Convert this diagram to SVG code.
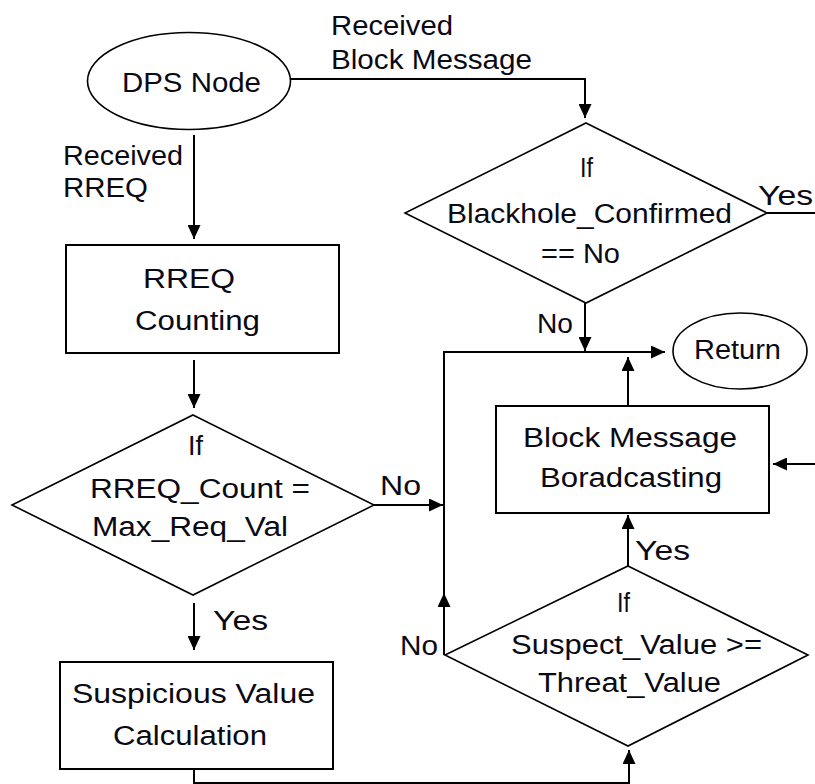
<svg xmlns="http://www.w3.org/2000/svg" width="815" height="784" viewBox="0 0 815 784">
  <style>
    .shape { fill: #ffffff; stroke: #000000; stroke-width: 1.6; }
    .box { fill: #ffffff; stroke: #000000; stroke-width: 2; }
    .conn { fill: none; stroke: #000000; stroke-width: 2; }
    text { font-family: "Liberation Sans", Arial, sans-serif; font-size: 27px; fill: #0a0a14; }
  </style>
  <defs>
    <marker id="arrow" markerUnits="userSpaceOnUse" markerWidth="15" markerHeight="13" refX="14" refY="6.5" orient="auto">
      <path d="M0,0 L14,6.5 L0,13 z" fill="#000000"/>
    </marker>
  </defs>
  <rect width="815" height="784" fill="#ffffff"/>

  <!-- connectors -->
  <g id="connectors">
    <path class="conn" d="M291,79 H585 V118" marker-end="url(#arrow)"/>
    <path class="conn" d="M194,135 V239" marker-end="url(#arrow)"/>
    <path class="conn" d="M194,360 V408" marker-end="url(#arrow)"/>
    <path class="conn" d="M374,505 H443" marker-end="url(#arrow)"/>
    <path class="conn" d="M444,655 V352 H665" marker-end="url(#arrow)"/>
    <path class="conn" d="M444,615 V593" marker-end="url(#arrow)"/>
    <path class="conn" d="M585,303 V351" marker-end="url(#arrow)"/>
    <path class="conn" d="M628,406 V357" marker-end="url(#arrow)"/>
    <path class="conn" d="M815,464 H773" marker-end="url(#arrow)"/>
    <path class="conn" d="M767,213 H815"/>
    <path class="conn" d="M194,603 V650" marker-end="url(#arrow)"/>
    <path class="conn" d="M194,769 V783 H629 V750" marker-end="url(#arrow)"/>
    <path class="conn" d="M628,566 V515" marker-end="url(#arrow)"/>
    <!-- connector labels -->
    <text x="331" y="35" textLength="122" lengthAdjust="spacingAndGlyphs">Received</text>
    <text x="331" y="69" textLength="201" lengthAdjust="spacingAndGlyphs">Block Message</text>
    <text x="63" y="165" textLength="120" lengthAdjust="spacingAndGlyphs">Received</text>
    <text x="63" y="197" textLength="85" lengthAdjust="spacingAndGlyphs">RREQ</text>
    <text x="758" y="205" textLength="55" lengthAdjust="spacingAndGlyphs">Yes</text>
    <text x="537" y="333" textLength="36" lengthAdjust="spacingAndGlyphs">No</text>
    <text x="380" y="495" textLength="41" lengthAdjust="spacingAndGlyphs">No</text>
    <text x="213" y="630" textLength="55" lengthAdjust="spacingAndGlyphs">Yes</text>
    <text x="635" y="560" textLength="55" lengthAdjust="spacingAndGlyphs">Yes</text>
    <text x="400" y="655" textLength="38" lengthAdjust="spacingAndGlyphs">No</text>
  </g>

  <!-- start node -->
  <g id="dps-node">
    <ellipse class="shape" cx="189" cy="81" rx="101.5" ry="48.5"/>
    <text x="122" y="92" textLength="139" lengthAdjust="spacingAndGlyphs">DPS Node</text>
  </g>

  <!-- blackhole check -->
  <g id="blackhole-check">
    <polygon class="shape" points="586,123 767,213 586,303 405,213"/>
    <text x="580" y="177" textLength="13" lengthAdjust="spacingAndGlyphs">If</text>
    <text x="447" y="223" textLength="285" lengthAdjust="spacingAndGlyphs">Blackhole_Confirmed</text>
    <text x="541" y="263" textLength="79" lengthAdjust="spacingAndGlyphs">== No</text>
  </g>

  <!-- end node -->
  <g id="return-node">
    <ellipse class="shape" cx="740" cy="351" rx="67" ry="38"/>
    <text x="694" y="359" textLength="87" lengthAdjust="spacingAndGlyphs">Return</text>
  </g>

  <g id="rreq-counting">
    <rect class="box" x="66" y="245" width="273" height="108"/>
    <text x="143" y="288" textLength="92" lengthAdjust="spacingAndGlyphs">RREQ</text>
    <text x="135" y="330" textLength="125" lengthAdjust="spacingAndGlyphs">Counting</text>
  </g>

  <g id="block-broadcast">
    <rect class="box" x="496" y="406" width="273" height="107"/>
    <text x="523" y="447" textLength="214" lengthAdjust="spacingAndGlyphs">Block Message</text>
    <text x="540" y="487" textLength="182" lengthAdjust="spacingAndGlyphs">Boradcasting</text>
  </g>

  <g id="rreq-check">
    <polygon class="shape" points="193,415 374,505 193,595 12,505"/>
    <text x="188" y="455" textLength="15" lengthAdjust="spacingAndGlyphs">If</text>
    <text x="90" y="498" textLength="220" lengthAdjust="spacingAndGlyphs">RREQ_Count =</text>
    <text x="92" y="536" textLength="196" lengthAdjust="spacingAndGlyphs">Max_Req_Val</text>
  </g>

  <g id="suspicious-calc">
    <rect class="box" x="60" y="662" width="273" height="107"/>
    <text x="72" y="703" textLength="243" lengthAdjust="spacingAndGlyphs">Suspicious Value</text>
    <text x="113" y="745" textLength="154" lengthAdjust="spacingAndGlyphs">Calculation</text>
  </g>

  <g id="threat-check">
    <polygon class="shape" points="628,566 808,655 628,746 445,655"/>
    <text x="617" y="612" textLength="13" lengthAdjust="spacingAndGlyphs">If</text>
    <text x="511" y="654" textLength="251" lengthAdjust="spacingAndGlyphs">Suspect_Value &gt;=</text>
    <text x="538" y="692" textLength="183" lengthAdjust="spacingAndGlyphs">Threat_Value</text>
  </g>
</svg>
